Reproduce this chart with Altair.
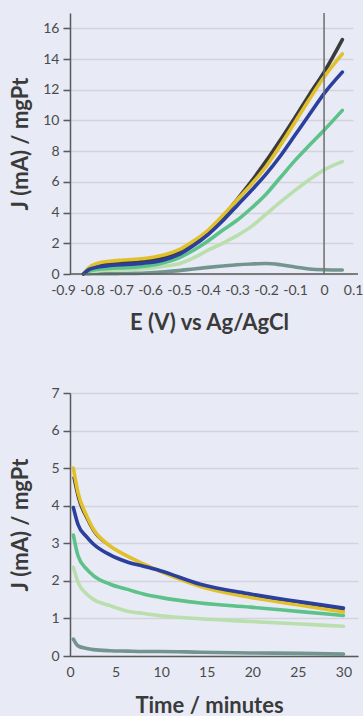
import altair as alt
import pandas as pd

BG = "#E8EAF6"
FONT = "Lato"
AXIS_COLOR = "#5A5A5A"
GRID_COLOR = "#D3D4DA"
LABEL_COLOR = "#4A4A4A"
TITLE_COLOR = "#3A3A3A"

# series drawn back to front
SERIES = ["teal", "lightgreen", "green", "black", "yellow", "blue"]
COLORS = {
    "black": "#3B3B3B",
    "yellow": "#E0C12C",
    "blue": "#2B3F9D",
    "green": "#5CC28A",
    "lightgreen": "#B9DFAD",
    "teal": "#72968F",
}

# ---- Linear sweep: current density vs potential ----
E_SWEEP = [-0.83, -0.81, -0.78, -0.74, -0.70, -0.65, -0.60, -0.55, -0.50, -0.45,
           -0.40, -0.35, -0.30, -0.25, -0.20, -0.15, -0.10, -0.05, 0.0, 0.063]
J_SWEEP = {
    "black":      [0, 0.32, 0.56, 0.68, 0.74, 0.80, 0.90, 1.08, 1.42, 2.00,
                   2.78, 3.70, 4.85, 6.05, 7.35, 8.75, 10.2, 11.7, 13.15, 15.27],
    "yellow":     [0, 0.42, 0.70, 0.83, 0.90, 0.96, 1.06, 1.25, 1.58, 2.15,
                   2.85, 3.80, 4.82, 5.85, 7.00, 8.40, 9.90, 11.4, 12.83, 14.34],
    "blue":       [0, 0.30, 0.45, 0.55, 0.60, 0.66, 0.75, 0.93, 1.27, 1.85,
                   2.57, 3.45, 4.45, 5.45, 6.50, 7.70, 9.05, 10.4, 11.75, 13.15],
    "green":      [0, 0.18, 0.30, 0.36, 0.40, 0.45, 0.55, 0.75, 1.06, 1.55,
                   2.15, 2.85, 3.50, 4.30, 5.20, 6.30, 7.40, 8.40, 9.37, 10.66],
    "lightgreen": [0, 0.10, 0.20, 0.25, 0.28, 0.32, 0.38, 0.50, 0.67, 1.05,
                   1.55, 2.00, 2.50, 3.10, 3.90, 4.70, 5.45, 6.15, 6.78, 7.32],
    "teal":       [0, 0.01, 0.02, 0.02, 0.03, 0.04, 0.08, 0.14, 0.22, 0.33,
                   0.43, 0.52, 0.60, 0.65, 0.68, 0.60, 0.45, 0.33, 0.28, 0.26],
}

# ---- Chronoamperometry: current density vs time ----
T_HOLD = [0.37, 0.88, 1.83, 2.56, 4.4, 6.2, 8.06, 9.9, 14.3, 19.8, 25.3, 30.0]
J_HOLD = {
    "black":      [4.75, 4.20, 3.65, 3.32, 2.92, 2.67, 2.45, 2.27, 1.89, 1.61, 1.40, 1.22],
    "yellow":     [5.00, 4.35, 3.73, 3.38, 2.93, 2.67, 2.45, 2.25, 1.85, 1.56, 1.35, 1.17],
    "blue":       [3.95, 3.50, 3.17, 2.98, 2.69, 2.51, 2.39, 2.27, 1.91, 1.65, 1.44, 1.28],
    "green":      [3.22, 2.67, 2.31, 2.14, 1.91, 1.78, 1.65, 1.56, 1.41, 1.30, 1.18, 1.08],
    "lightgreen": [2.36, 1.96, 1.65, 1.51, 1.34, 1.20, 1.13, 1.07, 0.99, 0.92, 0.85, 0.79],
    "teal":       [0.45, 0.27, 0.20, 0.17, 0.14, 0.13, 0.12, 0.12, 0.10, 0.08, 0.07, 0.05],
}

E_TICKS = [-0.9, -0.8, -0.7, -0.6, -0.5, -0.4, -0.3, -0.2, -0.1, 0, 0.1]
J_SWEEP_TICKS = [0, 2, 4, 6, 8, 10, 12, 14, 16]
T_TICKS = [0, 5, 10, 15, 20, 25, 30]
J_HOLD_TICKS = [0, 1, 2, 3, 4, 5, 6, 7]

W = 288
H_TOP = 261
H_BOT = 263
LABEL_SIZE = 14
TITLE_SIZE = 22

HOLD_WIDTH = {"black": 2.2}

# plain hyphen for negatives, bare "0" at zero
POTENTIAL_LABEL = ("datum.value == 0 ? '0' : "
                   "(datum.value < 0 ? '-' : '') + format(abs(datum.value), '.1f')")


def y_axis(values, height):
    return alt.Axis(
        values=values, title="J (mA) / mgPt", grid=True,
        gridColor=GRID_COLOR, gridWidth=1.5,
        domainColor=AXIS_COLOR, domainWidth=1.5,
        tickColor=AXIS_COLOR, tickWidth=1.5, tickSize=7,
        labelFont=FONT, labelFontSize=LABEL_SIZE, labelColor=LABEL_COLOR, labelPadding=4,
        titleFont=FONT, titleFontSize=TITLE_SIZE, titleFontWeight="bold", titleColor=TITLE_COLOR,
        titleX=-43, titleY=height / 2, titleBaseline="alphabetic", titleAngle=-90,
    )


def x_axis(values, title, title_pad, with_domain, label_expr=None):
    opts = dict(
        values=values, title=title, grid=False, ticks=False,
        labelFlush=False, labelOverlap=False,
        domain=with_domain, domainColor=AXIS_COLOR, domainWidth=1.5,
        labelFont=FONT, labelFontSize=LABEL_SIZE, labelColor=LABEL_COLOR, labelPadding=9,
        titleFont=FONT, titleFontSize=TITLE_SIZE, titleFontWeight="bold", titleColor=TITLE_COLOR,
        titlePadding=title_pad, titleX=139,
    )
    if label_expr:
        opts["labelExpr"] = label_expr
    return alt.Axis(**opts)


def series_layers(xs, table, xscale, yscale, xaxis, yaxis, xname, widths):
    layers = []
    for name in SERIES:
        df = pd.DataFrame({xname: xs, "J": table[name]})
        layers.append(
            alt.Chart(df).mark_line(
                color=COLORS[name], strokeWidth=widths.get(name, 3.6),
                strokeCap="round", strokeJoin="round", interpolate="monotone",
            ).encode(
                x=alt.X(f"{xname}:Q", scale=xscale, axis=xaxis),
                y=alt.Y("J:Q", scale=yscale, axis=yaxis),
            )
        )
    return layers


# potential axis: the plot spans -0.876 .. 0.117 V, the -0.9 label hangs left of it
PX_PER_V = W / (0.117 + 0.876)
sweep_x = alt.Scale(domain=[-0.9, 0.1], nice=False, zero=False,
                    range=[(-0.9 + 0.876) * PX_PER_V, (0.1 + 0.876) * PX_PER_V])
sweep_y = alt.Scale(domain=[0, 17], nice=False)
sweep_xaxis = x_axis(E_TICKS, "E (V) vs Ag/AgCl", 15, False, POTENTIAL_LABEL)
sweep_yaxis = y_axis(J_SWEEP_TICKS, H_TOP)

zero_line = alt.Chart(pd.DataFrame({"E": [0]})).mark_rule(
    color="#6E6E6E", strokeWidth=1.5
).encode(x=alt.X("E:Q", scale=sweep_x, axis=sweep_xaxis))

base_line = alt.Chart(pd.DataFrame({"J": [0]})).mark_rule(
    color=AXIS_COLOR, strokeWidth=1.5
).encode(y=alt.Y("J:Q", scale=sweep_y, axis=sweep_yaxis))

sweep = alt.layer(
    *series_layers(E_SWEEP, J_SWEEP, sweep_x, sweep_y,
                   sweep_xaxis, sweep_yaxis, "E", {}),
    zero_line,
    base_line,
).properties(width=W, height=H_TOP)

hold_x = alt.Scale(domain=[0, 31.6], nice=False)
hold_y = alt.Scale(domain=[0, 7], nice=False)
hold = alt.layer(
    *series_layers(T_HOLD, J_HOLD, hold_x, hold_y,
                   x_axis(T_TICKS, "Time / minutes", 16, True),
                   y_axis(J_HOLD_TICKS, H_BOT), "t", HOLD_WIDTH),
).properties(width=W, height=H_BOT)

chart = alt.vconcat(sweep, hold, spacing=53).properties(
    background=BG,
    padding={"left": 9, "top": 12, "right": 0, "bottom": 0},
).configure_view(stroke=None)

chart.save("out.html", embed_options={"renderer": "svg", "actions": False})
